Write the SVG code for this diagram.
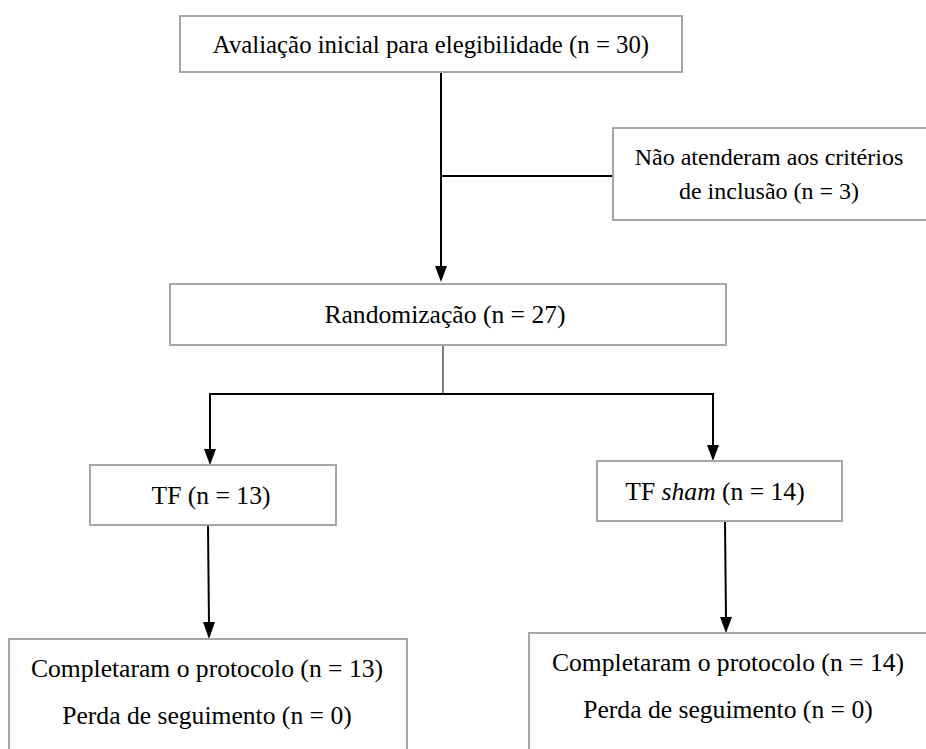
<svg xmlns="http://www.w3.org/2000/svg" width="926" height="749" viewBox="0 0 926 749">
<style>
.box{fill:#fff;stroke:#a6a6a6;stroke-width:2}
.t{font-family:'Liberation Serif','Times New Roman',serif;font-size:25.6px;fill:#000;text-anchor:middle}
.c{stroke:#000;stroke-width:2;fill:none}
.ah{fill:#000}
</style>
<g id="connectors">
<line class="c" x1="441" y1="72" x2="441" y2="270"/>
<path class="ah" d="M435,266 L447,266 L441,282 Z"/>
<line class="c" x1="441" y1="176" x2="613" y2="176"/>
<line stroke="#000" stroke-width="1" x1="443" y1="345" x2="443" y2="394"/>
<polyline class="c" points="210,452 210,394 713,394 713,448"/>
<path class="ah" d="M204,449 L216,449 L210,465 Z"/>
<path class="ah" d="M707,445 L719,445 L713,461 Z"/>
<line class="c" x1="208" y1="525" x2="209" y2="625"/>
<path class="ah" d="M203,622 L215,622 L209,639 Z"/>
<line class="c" x1="725" y1="521" x2="726" y2="620"/>
<path class="ah" d="M720,617 L732,617 L726,633 Z"/>
</g>
<g id="n1">
<rect class="box" x="180" y="16" width="502" height="56"/>
<text class="t" style="font-size:24.8px" x="431" y="53">Avaliação inicial para elegibilidade (n = 30)</text>
</g>
<g id="n2">
<rect class="box" x="613" y="128" width="320" height="92"/>
<text class="t" style="font-size:24px" x="769" y="165">Não atenderam aos critérios</text>
<text class="t" style="font-size:24px" x="769" y="199">de inclusão (n = 3)</text>
</g>
<g id="n3">
<rect class="box" x="170" y="284" width="556" height="61"/>
<text class="t" x="445" y="323">Randomização (n = 27)</text>
</g>
<g id="n4">
<rect class="box" x="90" y="465" width="246" height="60"/>
<text class="t" x="211" y="504">TF (n = 13)</text>
</g>
<g id="n5">
<rect class="box" x="597" y="461" width="245" height="60"/>
<text class="t" x="715" y="500">TF <tspan font-style="italic">sham</tspan> (n = 14)</text>
</g>
<g id="n6">
<rect class="box" x="9" y="639" width="398" height="120"/>
<text class="t" x="207" y="677">Completaram o protocolo (n = 13)</text>
<text class="t" x="207" y="724">Perda de seguimento (n = 0)</text>
</g>
<g id="n7">
<rect class="box" x="529" y="633" width="410" height="126"/>
<text class="t" x="728" y="671">Completaram o protocolo (n = 14)</text>
<text class="t" x="728" y="718">Perda de seguimento (n = 0)</text>
</g>
</svg>
